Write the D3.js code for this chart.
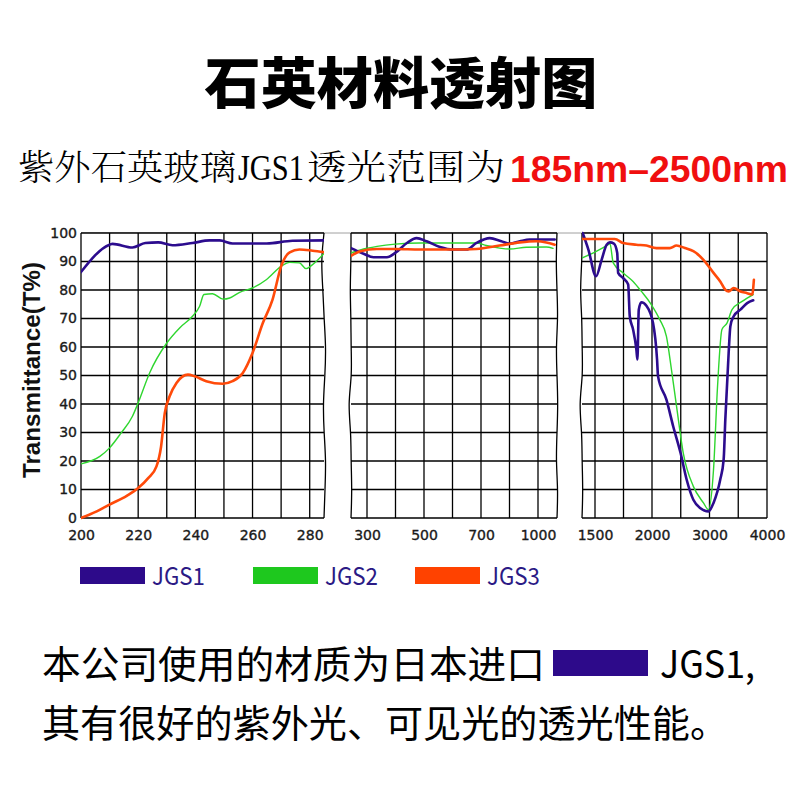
<!DOCTYPE html>
<html>
<head>
<meta charset="utf-8">
<script src="https://cdn.jsdelivr.net/npm/d3@7"></script>
<style>
  body { margin: 0; background: #fff; }
  svg { display: block; }
  .grid-line { stroke: #000; stroke-width: 1.3; }
  .axis text { font-family: "DejaVu Sans", sans-serif; font-size: 14px; fill: #1a1a1a; stroke: #1a1a1a; stroke-width: 0.35; }
  .axis .domain { display: none; }
  .cjk { font-family: "Noto Sans CJK SC", sans-serif; }
</style>
</head>
<body>
<svg id="chart" width="800" height="800" viewBox="0 0 800 800"></svg>
<script>
const yTicks = [0, 10, 20, 30, 40, 50, 60, 70, 80, 90, 100];

const uvTicks = [200, 220, 240, 260, 280];
const uvGrid = [200, 210, 220, 230, 240, 250, 260, 270, 280];
const visTicks = [300, 500, 700, 1000];
const visGrid = [300, 400, 500, 600, 700, 850, 1000];
const irTicks = [1500, 2000, 3000, 4000];
const irGrid = [1500, 1750, 2000, 2500, 3000, 3500, 4000];

const seriesNames = ["JGS1", "JGS2", "JGS3"];

// [wavelength nm, transmittance %]
const jgs1Uv = [[200, 86.3], [210, 95.9], [211, 96.2], [218, 94.9], [222.5, 96.5], [227, 96.7], [232, 95.7],
  [239, 96.5], [245, 97.4], [248.5, 97.4], [253, 96.3], [265, 96.3], [274, 97.3], [285, 97.4]];
const jgs2Uv = [[200, 19], [206.6, 21.6], [210, 24.6], [214, 29.8], [218, 35.7], [220, 40.4], [224, 50.9],
  [230, 61.4], [234.5, 66.7], [239, 70.8], [241.5, 74.3], [243, 78.4], [246, 78.7], [249.7, 76.8],
  [252, 77.2], [255.5, 79.2], [260, 80.7], [264.8, 83.6], [270, 88.3], [273, 89.7], [276.4, 89.5],
  [278.7, 87.5], [281, 88.9], [285, 92.8]];
const jgs3Uv = [[200, 0], [205.5, 2.3], [210, 4.7], [216, 7.8], [220, 10.5], [223.5, 14], [226.4, 18.1],
  [228, 25], [229.3, 36.8], [231, 42.7], [233.4, 47.4], [237.4, 50.3], [239.8, 49.7], [243.8, 48],
  [249.6, 47.1], [253, 48], [256.6, 50.9], [260, 57.9], [263.6, 68.4], [267, 76.6], [270, 88.3],
  [273, 93.2], [276.4, 94.2], [281, 93.8], [285, 93.3]];

const jgs1Vis = [[244, 94.7], [288, 92.7], [323, 91.5], [370, 91.5], [399, 93.0], [440, 96.5], [474, 98.2],
  [509, 97.1], [556, 95.1], [602, 94.2], [649, 94.2], [684, 96.5], [746, 98.2], [807, 97.1],
  [851, 96.3], [904, 97.1], [956, 97.7], [1088, 97.7]];
const jgs2Vis = [[244, 93.0], [288, 94.4], [335, 95.3], [399, 96.1], [486, 96.5], [602, 96.5], [684, 96.5],
  [728, 95.6], [798, 94.7], [851, 94.4], [939, 95.0], [1044, 95.1], [1079, 94.6]];
const jgs3Vis = [[244, 92.0], [277, 93.6], [335, 94.4], [399, 94.4], [486, 94.2], [602, 94.2], [684, 94.4],
  [798, 95.6], [904, 96.7], [991, 97.1], [1044, 96.7], [1088, 95.9]];

const jgs1Ir = [[1392, 100], [1442, 94.2], [1509, 84.8], [1558, 90.6], [1602, 95.9], [1631, 96.7],
  [1666, 96.3], [1695, 93.0], [1703, 86.0], [1747, 84.2], [1791, 81.9], [1805, 70.8], [1834, 66.1],
  [1863, 59.1], [1872, 55.6], [1884, 73.1], [1907, 75.7], [1951, 74.5], [2018, 68.4], [2088, 55.6],
  [2105, 49.7], [2251, 41.5], [2368, 32.2], [2497, 22.8], [2602, 13.5], [2719, 6.4], [2836, 3.5],
  [2982, 2.3], [3070, 5.3], [3187, 13.5], [3246, 20.5], [3275, 34.5], [3333, 57.9], [3363, 67.3],
  [3421, 70.8], [3538, 73.1], [3655, 75.4], [3760, 76.4]];
const jgs2Ir = [[1384, 91.2], [1515, 93.6], [1616, 95.9], [1631, 96.3], [1660, 89.5], [1747, 86.0],
  [1834, 83.0], [1907, 79.5], [1994, 74.9], [2135, 69.6], [2251, 63.7], [2339, 52.0], [2427, 39.2],
  [2544, 22.8], [2719, 11.1], [2895, 5.3], [2982, 2.9], [3070, 17.0], [3140, 46.2], [3216, 66.1],
  [3304, 68.4], [3392, 73.1], [3567, 76.0], [3760, 78.4]];
const jgs3Ir = [[1392, 97.9], [1485, 97.9], [1674, 97.9], [1747, 96.5], [1863, 95.9], [1951, 95.6],
  [2076, 94.7], [2310, 94.7], [2427, 95.6], [2573, 94.7], [2719, 93.6], [2895, 90.6], [3070, 86.0],
  [3187, 83.0], [3275, 80.1], [3333, 79.5], [3421, 80.7], [3538, 79.5], [3655, 78.9], [3743, 78.4],
  [3772, 83.6]];

const COLORS = ["#2c0c8e", "#2fd62f", "#ff4a0a"];
const LEGEND_COLORS = ["#2d0a8a", "#1ec81e", "#ff4200"];
const STROKES = [2.6, 1.4, 2.6];

const svg = document.getElementById("chart");
const root = d3.select(svg);

const yScale = d3.scaleLinear().domain([0, 100]).range([518, 233]);

// wiggle offsets (px) for torn panel edges, one per y tick from 0 to 100
const panels = [
  {
    domain: [200, 285], range: [81, 324], grid: uvGrid, ticks: uvTicks,
    series: [jgs1Uv, jgs2Uv, jgs3Uv],
    leftEdge: null, rightEdge: [0, 1, 2, 0, -1, 1, 2, 0, -1, -3, 0]
  },
  {
    domain: [244, 300, 700, 1000, 1100], range: [351, 367, 481, 538, 557], grid: visGrid, ticks: visTicks,
    series: [jgs1Vis, jgs2Vis, jgs3Vis],
    leftEdge: [0, 1, 0, 0, -3, 1, 0, 0, -1, 0, 0], rightEdge: [0, 1, -1, 0, 1, 0, -1, 1, 0, -1, 0]
  },
  {
    domain: [1386, 1500, 2000, 4000], range: [582, 595, 652, 767], grid: irGrid, ticks: irTicks,
    series: [jgs1Ir, jgs2Ir, jgs3Ir],
    leftEdge: [0, 1, 0, 0, -3, 1, 0, 0, -2, 0, 0], rightEdge: null
  }
];

const defs = root.append("defs");

// Title
root.append("text")
  .attr("x", 401).attr("y", 103)
  .attr("text-anchor", "middle")
  .attr("class", "cjk")
  .attr("font-size", 55)
  .attr("font-weight", 900)
  .attr("textLength", 393)
  .attr("lengthAdjust", "spacingAndGlyphs")
  .text("石英材料透射图");

// Subtitle
const sub = root.append("g").attr("font-size", 35);
sub.append("text")
  .attr("x", 18).attr("y", 180)
  .attr("font-family", "'Noto Serif CJK SC', 'Noto Sans CJK SC', serif")
  .attr("font-weight", 300)
  .attr("textLength", 218).attr("lengthAdjust", "spacingAndGlyphs")
  .text("紫外石英玻璃");
sub.append("text")
  .attr("x", 238).attr("y", 180)
  .attr("font-family", "'Liberation Serif', serif")
  .attr("textLength", 66).attr("lengthAdjust", "spacingAndGlyphs")
  .text("JGS1");
sub.append("text")
  .attr("x", 307).attr("y", 180)
  .attr("font-family", "'Noto Serif CJK SC', 'Noto Sans CJK SC', serif")
  .attr("font-weight", 300)
  .attr("textLength", 198).attr("lengthAdjust", "spacingAndGlyphs")
  .text("透光范围为");
sub.append("text")
  .attr("x", 510).attr("y", 182)
  .attr("font-family", "'Liberation Sans', Arial, sans-serif")
  .attr("font-weight", 700)
  .attr("font-size", 37)
  .attr("fill", "#f00f0f")
  .attr("textLength", 278).attr("lengthAdjust", "spacingAndGlyphs")
  .text("185nm\u20132500nm");

// thin line bridging the gaps along the top
root.append("line")
  .attr("x1", panels[0].range[0]).attr("x2", panels[2].range[panels[2].range.length - 1])
  .attr("y1", yScale(100)).attr("y2", yScale(100))
  .attr("stroke", "#888").attr("stroke-width", 0.8);

const edgeLine = d3.line().curve(d3.curveBasis);

panels.forEach((panel, panelIndex) => {
  const xScale = d3.scaleLinear().domain(panel.domain).range(panel.range);
  const left = panel.range[0];
  const right = panel.range[panel.range.length - 1];
  const g = root.append("g");

  g.append("rect")
    .attr("x", left).attr("y", yScale(100))
    .attr("width", right - left).attr("height", yScale(0) - yScale(100))
    .attr("fill", "#fff");

  // horizontal grid
  g.append("g")
    .selectAll("line")
    .data(yTicks)
    .join("line")
    .attr("class", "grid-line")
    .attr("x1", left).attr("x2", right)
    .attr("y1", tick => yScale(tick)).attr("y2", tick => yScale(tick));

  // vertical grid
  g.append("g")
    .selectAll("line")
    .data(panel.grid)
    .join("line")
    .attr("class", "grid-line")
    .attr("x1", tick => xScale(tick)).attr("x2", tick => xScale(tick))
    .attr("y1", yScale(0)).attr("y2", yScale(100));

  // torn edges
  [[panel.leftEdge, left], [panel.rightEdge, right]].forEach(([wiggle, x]) => {
    if (!wiggle) return;
    g.append("path")
      .attr("d", edgeLine(yTicks.map((tick, i) => [x + wiggle[i], yScale(tick)])))
      .attr("fill", "none")
      .attr("stroke", "#000")
      .attr("stroke-width", 1.3);
  });

  g.append("g")
    .attr("class", "axis")
    .attr("transform", `translate(0, ${yScale(0)})`)
    .call(d3.axisBottom(xScale).tickValues(panel.ticks).tickSize(0).tickPadding(12).tickFormat(d3.format("d")));

  const clipId = `clip-${panelIndex}`;
  defs.append("clipPath").attr("id", clipId)
    .append("rect")
    .attr("x", left).attr("y", yScale(100) - 3)
    .attr("width", right - left).attr("height", yScale(0) - yScale(100) + 6);

  const line = d3.line()
    .x(point => xScale(point[0]))
    .y(point => yScale(point[1]))
    .curve(d3.curveMonotoneX);

  const drawOrder = [1, 0, 2];
  g.append("g")
    .attr("clip-path", `url(#${clipId})`)
    .selectAll("path")
    .data(drawOrder)
    .join("path")
    .attr("d", index => line(panel.series[index]))
    .attr("fill", "none")
    .attr("stroke", index => COLORS[index])
    .attr("stroke-width", index => STROKES[index])
    .attr("stroke-linejoin", "round")
    .attr("stroke-linecap", "round");
});

root.append("g")
  .attr("class", "axis")
  .attr("transform", `translate(${panels[0].range[0]}, 0)`)
  .call(d3.axisLeft(yScale).tickValues(yTicks).tickSize(0).tickPadding(4));

root.append("text")
  .attr("transform", "translate(40, 370) rotate(-90)")
  .attr("text-anchor", "middle")
  .attr("font-family", "'Liberation Sans', Arial, sans-serif")
  .attr("font-weight", 700)
  .attr("font-size", 23)
  .attr("fill", "#111")
  .attr("textLength", 216)
  .attr("lengthAdjust", "spacingAndGlyphs")
  .text("Transmittance(T%)");

// Legend
const legendX = [80, 253, 415];
const legend = root.append("g")
  .selectAll("g")
  .data(seriesNames)
  .join("g")
  .attr("transform", (_name, i) => `translate(${legendX[i]}, 567)`);
legend.append("rect")
  .attr("width", 65).attr("height", 17)
  .attr("fill", (_name, i) => LEGEND_COLORS[i]);
legend.append("text")
  .attr("x", 72).attr("y", 18)
  .attr("class", "cjk")
  .attr("font-size", 24)
  .attr("fill", "#2b1a85")
  .attr("textLength", 53)
  .attr("lengthAdjust", "spacingAndGlyphs")
  .text(name => name);

// Footer
const foot = root.append("g").attr("class", "cjk").attr("font-size", 38).attr("fill", "#000");
foot.append("text")
  .attr("x", 42).attr("y", 678)
  .attr("textLength", 503).attr("lengthAdjust", "spacingAndGlyphs")
  .text("本公司使用的材质为日本进口");
foot.append("rect")
  .attr("x", 553).attr("y", 650).attr("width", 95).attr("height", 26)
  .attr("fill", LEGEND_COLORS[0]);
foot.append("text")
  .attr("x", 660).attr("y", 678)
  .attr("textLength", 95).attr("lengthAdjust", "spacingAndGlyphs")
  .text("JGS1,");
foot.append("text")
  .attr("x", 42).attr("y", 737)
  .attr("textLength", 686).attr("lengthAdjust", "spacingAndGlyphs")
  .text("其有很好的紫外光、可见光的透光性能。");
</script>
</body>
</html>
